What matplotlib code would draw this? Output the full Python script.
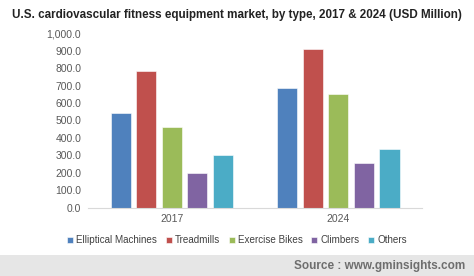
import matplotlib.pyplot as plt
import numpy as np
from matplotlib.patches import Rectangle

plt.rcParams['font.family'] = ['Liberation Sans', 'DejaVu Sans']

# data
years = ['2017', '2024']
types = ['Elliptical Machines', 'Treadmills', 'Exercise Bikes', 'Climbers', 'Others']
elliptical = [541, 685]
treadmills = [784, 911]
bikes = [461, 652]
climbers = [197, 257]
others = [300, 334]
colors = ['#4F81BD', '#C0504D', '#9BBB59', '#8064A2', '#4BACC6']

series = [elliptical, treadmills, bikes, climbers, others]

fig = plt.figure(figsize=(4.74, 2.76), dpi=100)
ax = fig.add_axes([0.186, 0.248, 0.704, 0.631])

x = np.arange(len(years))
w = 0.12
pitch = 0.153
for i, vals in enumerate(series):
    ax.bar(x + (i - 2) * pitch, vals, width=w, color=colors[i], label=types[i],
           edgecolor='white', linewidth=0.4)

ax.set_xlim(-0.5, 1.5)
ax.set_ylim(0, 1000)
ax.set_yticks(np.arange(0, 1001, 100))
ax.set_yticklabels([f'{v:,.1f}' for v in np.arange(0, 1001, 100)])
ax.set_xticks(x)
ax.set_xticklabels(years)
ax.tick_params(axis='both', length=0, labelsize=7.5, colors='#595959')
ax.tick_params(axis='y', pad=5)
ax.tick_params(axis='x', pad=5)
for s in ['top', 'right', 'left']:
    ax.spines[s].set_visible(False)
ax.spines['bottom'].set_color('#D9D9D9')

fig.text(0.5, 0.945, 'U.S. cardiovascular fitness equipment market, by type, 2017 & 2024 (USD Million)',
         ha='center', va='center', fontsize=8.4, fontweight='bold', color='#222222')

ax.legend(loc='center', bbox_to_anchor=(0.5, 0.13), bbox_transform=fig.transFigure,
          ncol=5, frameon=False, fontsize=7.1, handlelength=0.6, handleheight=0.6,
          handletextpad=0.3, columnspacing=0.9, labelcolor='#404040')

fig.patches.append(Rectangle((0, 0), 1, 0.075, transform=fig.transFigure,
                             facecolor='#E6E6E6', edgecolor='none', zorder=0))
fig.text(0.982, 0.038, 'Source : www.gminsights.com', ha='right', va='center',
         fontsize=8.5, fontweight='bold', color='#6E6E6E')

fig.savefig('out.png', dpi=100)
